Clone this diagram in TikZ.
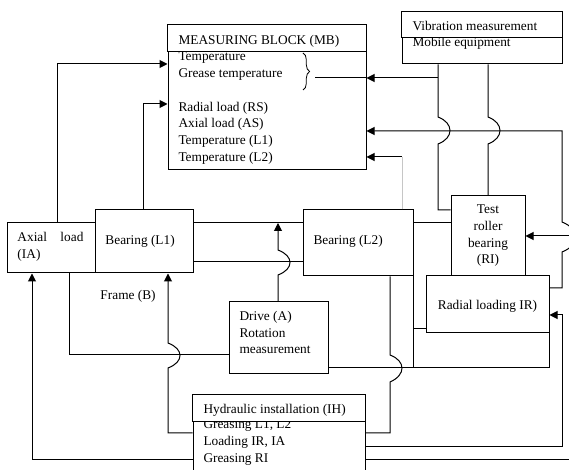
\documentclass[tikz,border=0pt]{standalone}
\usepackage{fontspec}
\setmainfont{Liberation Serif}
\usetikzlibrary{arrows.meta,fit,decorations.pathreplacing}

\tikzset{
  blk/.style = {draw, line width=0.75pt, inner sep=0pt},
  txt/.style = {anchor=base west, inner sep=0pt, font=\fontsize{10}{12.5}\selectfont},
  ctxt/.style = {align=center, inner sep=0pt, font=\fontsize{10}{12.5}\selectfont},
  arr/.style = {-{Triangle[length=6pt,width=6pt]}},
}

\begin{document}
\begin{tikzpicture}[x=0.75pt, y=-0.75pt, line width=0.75pt]
  \useasboundingbox (0,0) rectangle (569,470);
  \clip (0,0) rectangle (569,470);

  % boxes
  \node[blk, fit={(168,25) (366,170)}] (mb) {};
  \node[blk, fit={(402,12) (562,64)}] (vib) {};
  \node[blk, fit={(7,223) (95,273)}] (ia) {};
  \node[blk, fit={(95,210) (193,273)}] (l1) {};
  \node[blk, fit={(303,210) (413,276)}] (l2) {};
  \node[blk, fit={(451,196) (525,276)}] (rb) {};
  \node[blk, fit={(426,276) (549,333)}] (ir) {};
  \node[blk, fit={(229,302) (328,374)}] (drv) {};
  \node[blk, fit={(193,395) (365,480)}] (ih) {};

  % measuring block
  \node[txt] (mbt1) at (178,61) {Temperature};
  \node[txt] (mbt2) at (178,77.7) {Grease temperature};
  \node[txt] (mbt3) at (178,111.1) {Radial load (RS)};
  \node[txt] (mbt4) at (178,127.8) {Axial load (AS)};
  \node[txt] (mbt5) at (178,144.5) {Temperature (L1)};
  \node[txt] (mbt6) at (178,161.2) {Temperature (L2)};
  \draw[fill=white] (mb.north west) rectangle (mb.east |- 0,52);
  \node[txt] (mbhead) at (178,45) {MEASURING BLOCK (MB)};
  \draw[decorate, decoration={brace, amplitude=5pt}, line width=0.6pt] (303,53) -- (303,90);

  % vibration
  \node[txt] (vibt) at (412,46.7) {Mobile equipment};
  \draw[fill=white] (vib.north west) rectangle (vib.east |- 0,38);
  \node[txt] (vibhead) at (412,31) {Vibration measurement};

  % bearings and loads
  \node[txt] (iat1) at (17,241.7) {Axial\hspace{10pt}load};
  \node[txt] (iat2) at (17,258.3) {(IA)};
  \node[txt] (l1t) at (105,245) {Bearing (L1)};
  \node[txt] (l2t) at (313,245) {Bearing (L2)};
  \node[ctxt] (rbt) at (rb.center) {Test\\roller\\bearing\\(RI)};
  \node[ctxt] (irt) at ([yshift=-1pt]ir.center) {Radial loading IR)};
  \node[txt] (frame) at (100,300) {Frame (B)};

  % drive
  \node[txt] (drvt1) at (239,320.7) {Drive (A)};
  \node[txt] (drvt2) at (239,337.3) {Rotation};
  \node[txt] (drvt3) at (239,354) {measurement};

  % hydraulic installation
  \node[txt] (iht1) at (203,428.3) {Greasing L1, L2};
  \node[txt] (iht2) at (203,445.5) {Loading IR, IA};
  \node[txt] (iht3) at (203,462.7) {Greasing RI};
  \draw[fill=white] (ih.north west) rectangle (ih.east |- 0,422);
  \node[txt] (ihhead) at (203,413.3) {Hydraulic installation (IH)};

  % connectors
  \draw[arr] (ia.north -| 57,0) |- (mb.west |- 0,64);
  \draw[arr] (l1.north -| 143,0) |- (mb.west |- 0,104);
  \draw (vib.south -| 438,0) -- (438,117) .. controls (454,123) and (454,138) .. (438,144) -- (438,210) -- (rb.west |- 0,210);
  \draw (mb.east |- 0,78) -- (315,78);
  \draw[arr] (438,78) -- (mb.east |- 0,78);
  \draw (vib.south -| rb.north) -- (488,117) .. controls (504,123) and (504,138) .. (488,144) -- (rb.north);
  \draw[arr] (ir.east |- 0,288) -- (562,288) -- (562,252) .. controls (580,245) and (580,229) .. (562,222) -- (562,131) -- (mb.east |- 0,131);
  \draw[gray!45, line width=0.5pt] (l2.north -| 402,0) -- (402,157);
  \draw[arr] (402,157) -- (mb.east |- 0,157);

  \coordinate (redge) at (572,236);
  \draw[arr] (redge) -- (rb.east);
  \draw (l1.east |- 0,223) -- (l2.west |- 0,223);
  \draw (l1.east |- 0,262) -- (l2.west |- 0,262);
  \draw[arr] (drv.north -| 278,0) -- (278,275) .. controls (294,269) and (294,256) .. (278,250) -- (278,223);
  \draw (l2.east |- 0,223) -- (rb.west |- 0,223);
  \draw (l2.south east) -- (l2.south east |- 0,368);
  \draw (ir.west |- 0,329) -- (l2.south east |- 0,329);
  \draw (drv.east |- 0,368) -| (ir.south east);
  \draw (ia.south -| 69,0) |- (drv.west |- 0,355);

  \draw[arr] (ih.west |- 0,433) -- (168,433) -- (168,368) .. controls (184,362) and (184,349) .. (168,343) -- (l1.south -| 168,0);
  \draw[arr] (ih.west |- 0,460) -| (ia.south -| 32,0);
  \draw (ih.east |- 0,433) -- (390,433) -- (390,382) .. controls (406,375) and (406,361) .. (390,355) -- (l2.south -| 390,0);
  \draw[arr] (ih.east |- 0,447) -- (562,447) -- (562,315) -- (ir.east |- 0,315);
  \coordinate (bedge) at (572,460);
  \draw (ih.east |- 0,460) -- (bedge);
\end{tikzpicture}
\end{document}
